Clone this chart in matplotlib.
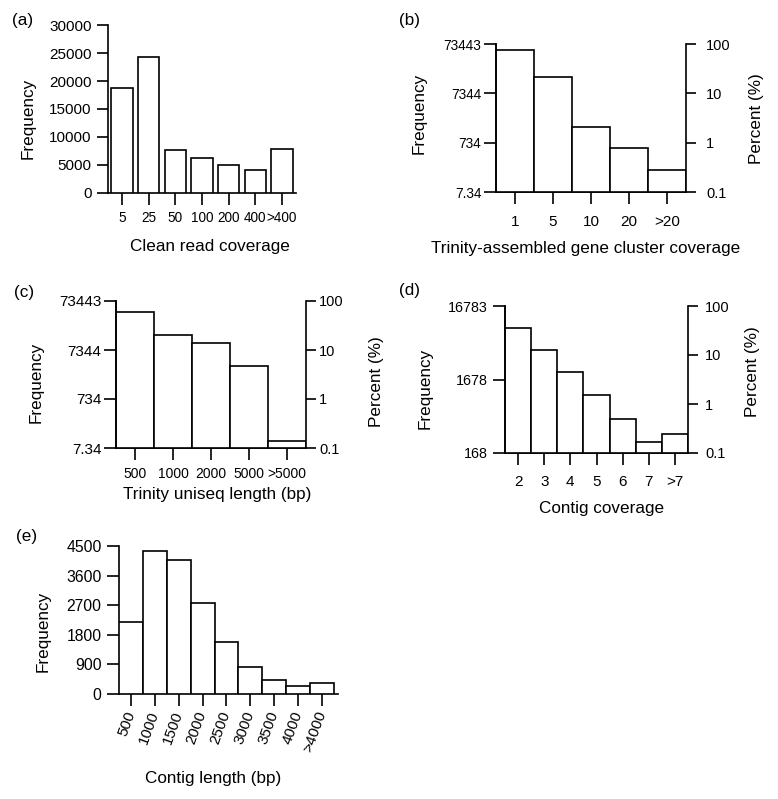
import matplotlib
matplotlib.use("Agg")
import matplotlib.pyplot as plt

# ==============================
# Data
# ==============================

a_labels = ["5", "25", "50", "100", "200", "400", ">400"]
a_freq = [18700, 24200, 7600, 6180, 5050, 4160, 7780]

b_labels = ["1", "5", "10", "20", ">20"]
b_freq = [54700, 15700, 1530, 580, 205]

c_labels = ["500", "1000", "2000", "5000", ">5000"]
c_freq = [44500, 15100, 10200, 3520, 102]

d_labels = ["2", "3", "4", "5", "6", "7", ">7"]
d_freq = [8450, 4255, 2100, 1045, 484, 234, 300]

e_labels = ["500", "1000", "1500", "2000", "2500", "3000", "3500", "4000", ">4000"]
e_freq = [2190, 4350, 4070, 2770, 1580, 830, 430, 233, 345]

# left axis labels of the log panels, as printed in the figure
bc_ticks = [73443, 7344.3, 734.43, 73.443]
bc_ticklabels = ["73443", "7344", "734", "7.34"]
d_ticks = [16783, 1678.3, 167.83]
d_ticklabels = ["16783", "1678", "168"]
pct_ticks = [100, 10, 1, 0.1]
pct_ticklabels = ["100", "10", "1", "0.1"]

# ==============================
# Figure setup
# ==============================

plt.rcParams['font.family'] = ['Liberation Sans', 'DejaVu Sans']
plt.rcParams['axes.linewidth'] = 1.2
plt.rcParams['xtick.major.width'] = 1.2
plt.rcParams['ytick.major.width'] = 1.2

W, H = 778, 799
fig = plt.figure(figsize=(W / 100, H / 100), dpi=100)

TITLE = 12.3


def add_axes(l, t, r, b):
    return fig.add_axes([l / W, 1 - b / H, (r - l) / W, (b - t) / H])


def fxy(x, y):
    return x / W, 1 - y / H


def tag(x, y, s):
    fig.text(*fxy(x, y), s, ha='center', va='center', fontsize=TITLE)


def xlab(ax, s, x, y):
    ax.set_xlabel(s, fontsize=TITLE, va='center')
    ax.xaxis.set_label_coords(*fxy(x, y), transform=fig.transFigure)


def ylab(ax, s, x, y):
    ax.set_ylabel(s, fontsize=TITLE, va='center')
    ax.yaxis.set_label_coords(*fxy(x, y), transform=fig.transFigure)


def pct_label(x, y):
    fig.text(*fxy(x, y), "Percent (%)", rotation=90, ha='center',
             va='center', fontsize=TITLE)


def bars(ax, labels, values, width=1.0):
    x = list(range(len(labels)))
    ax.bar(x, values, width=width, color='white', edgecolor='black',
           linewidth=1.2, zorder=3)
    ax.set_xticks(x)
    ax.set_xticklabels(labels)
    ax.spines['top'].set_visible(False)
    ax.spines['right'].set_visible(False)
    ax.tick_params(axis='both', direction='out')
    ax.minorticks_off()


def log_panel(ax, labels, values, ticks, ticklabels,
              lpad, rpad, bpad, lsize, rsize, bsize):
    bars(ax, labels, values)
    ax.set_yscale('log')
    ax.set_ylim(ticks[-1], ticks[0])
    ax.set_yticks(ticks)
    ax.set_yticklabels(ticklabels)
    ax.minorticks_off()
    ax.set_xlim(-0.5, len(labels) - 0.5)
    ax.tick_params(axis='y', length=8.6, pad=lpad, labelsize=lsize)
    ax.tick_params(axis='x', length=8.6, pad=bpad, labelsize=bsize)
    ax2 = ax.twinx()
    ax2.set_yscale('log')
    ax2.set_ylim(0.1, 100)
    ax2.set_yticks(pct_ticks)
    ax2.set_yticklabels(pct_ticklabels)
    ax2.minorticks_off()
    ax2.spines['top'].set_visible(False)
    ax2.tick_params(axis='y', direction='out', length=7.5, pad=rpad,
                    labelsize=rsize)
    return ax2


# ==============================
# (a) Clean read coverage
# ==============================

ax_a = add_axes(108, 25, 296, 193)
bars(ax_a, a_labels, a_freq, width=0.8)
ax_a.set_ylim(0, 30000)
ax_a.set_yticks(range(0, 30001, 5000))
ax_a.set_xlim(-0.525, 6.525)
ax_a.tick_params(axis='y', length=7.9, pad=4, labelsize=11)
ax_a.tick_params(axis='x', length=8.6, pad=4, labelsize=9.8)
xlab(ax_a, "Clean read coverage", 210, 247)
ylab(ax_a, "Frequency", 28, 118)
tag(23, 20, "(a)")

# ==============================
# (b) Trinity-assembled gene cluster coverage
# ==============================

ax_b = add_axes(496, 44, 686, 192)
log_panel(ax_b, b_labels, b_freq, bc_ticks, bc_ticklabels,
          2, 7, 8, 9.8, 10.5, 11)
xlab(ax_b, "Trinity-assembled gene cluster coverage", 586, 249)
ylab(ax_b, "Frequency", 419, 113)
pct_label(757, 119)
tag(409, 21, "(b)")

# ==============================
# (c) Trinity uniseq length
# ==============================

ax_c = add_axes(116, 301, 306, 448)
log_panel(ax_c, c_labels, c_freq, bc_ticks, bc_ticklabels,
          2, 2, 5, 11, 10.5, 10)
xlab(ax_c, "Trinity uniseq length (bp)", 217, 495)
ylab(ax_c, "Frequency", 36, 382)
pct_label(377, 382)
tag(24, 292, "(c)")

# ==============================
# (d) Contig coverage
# ==============================

ax_d = add_axes(505, 306, 688, 453)
log_panel(ax_d, d_labels, d_freq, d_ticks, d_ticklabels,
          4, 5, 7, 10.3, 10.5, 11)
xlab(ax_d, "Contig coverage", 602, 508)
ylab(ax_d, "Frequency", 425, 388)
pct_label(753, 372)
tag(410, 290, "(d)")

# ==============================
# (e) Contig length
# ==============================

ax_e = add_axes(119, 546, 338, 694)
bars(ax_e, e_labels, e_freq)
ax_e.set_ylim(0, 4500)
ax_e.set_yticks(range(0, 4501, 900))
ax_e.set_xlim(-0.5, 8.67)
ax_e.tick_params(axis='y', length=8.6, pad=4, labelsize=11.3)
ax_e.tick_params(axis='x', length=8.6, pad=4, labelsize=11)
for lab in ax_e.get_xticklabels():
    lab.set_rotation(70)
    lab.set_ha('right')
    lab.set_va('center')
    lab.set_rotation_mode('anchor')
xlab(ax_e, "Contig length (bp)", 213, 778)
ylab(ax_e, "Frequency", 43, 631)
tag(27, 537, "(e)")

fig.savefig("out.png", dpi=100)
